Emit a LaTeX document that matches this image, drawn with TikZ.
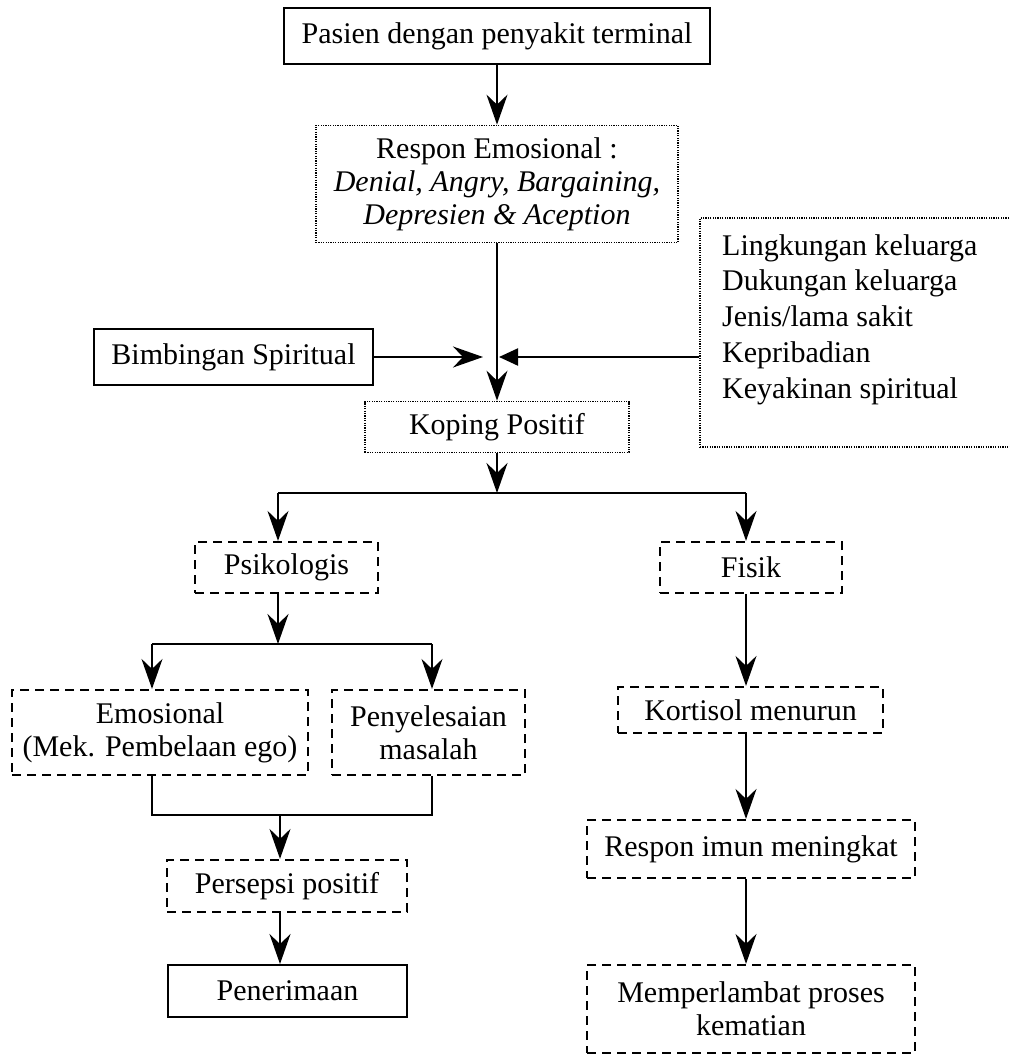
\documentclass[tikz,border=0pt]{standalone}
\usepackage{fontspec}
\setmainfont{Liberation Serif}
\usetikzlibrary{arrows.meta}
\begin{document}
\begin{tikzpicture}[x=1pt,y=-1pt,
  font=\fontsize{30}{33}\selectfont,
  box/.style={draw, line width=2pt, inner sep=0pt, align=center},
  dotbox/.style={draw, line width=1.7pt, dash pattern=on 1.2pt off 1.2pt, inner sep=0pt, align=center},
  dashbox/.style={draw, line width=2.2pt, dash pattern=on 9pt off 6pt, inner sep=0pt, align=center},
  arr/.style={line width=2.2pt, -{Stealth[length=30pt,width=21pt,inset=10pt]}},
  ln/.style={line width=2.2pt},
]
\useasboundingbox (0,0) rectangle (1009,1056);
% boxes
\node[box, minimum width=426pt, minimum height=56pt] (top) at (497,36) {Pasien dengan penyakit terminal};
\node[dotbox, minimum width=362pt, minimum height=117pt] (resp) at (497,184)
  {Respon Emosional :\\ \textit{Denial, Angry, Bargaining,}\\ \textit{Depresien \& Aception}};
\node[dotbox, minimum width=316pt, minimum height=229pt] (rbox) at (858,332.5) {};
\node[anchor=north west, align=left, inner sep=0pt, font=\fontsize{30}{35.8}\selectfont] (rtxt) at (722,234)
  {Lingkungan keluarga\\ Dukungan keluarga\\ Jenis/lama sakit\\ Kepribadian\\ Keyakinan spiritual};
\node[box, minimum width=279pt, minimum height=56pt] (bim) at (233.5,357) {Bimbingan Spiritual};
\node[dotbox, minimum width=264pt, minimum height=51pt] (kop) at (497,427) {Koping Positif};
\node[dashbox, minimum width=183pt, minimum height=51pt] (psi) at (286.5,567.5) {Psikologis};
\node[dashbox, minimum width=182pt, minimum height=51pt] (fis) at (751,567.5) {Fisik};
\node[dashbox, minimum width=296pt, minimum height=85pt] (emo) at (160,732.5) {Emosional\\ (Mek. Pembelaan ego)};
\node[dashbox, minimum width=193pt, minimum height=85pt] (pen) at (428.5,732.5) {Penyelesaian\\ masalah};
\node[dashbox, minimum width=240pt, minimum height=52pt] (pers) at (287,886) {Persepsi positif};
\node[box, minimum width=239pt, minimum height=52pt] (pene) at (287.5,991) {Penerimaan};
\node[dashbox, minimum width=265pt, minimum height=46pt] (kort) at (750.5,710) {Kortisol menurun};
\node[dashbox, minimum width=328pt, minimum height=58pt] (imun) at (751,849) {Respon imun meningkat};
\node[dashbox, minimum width=328pt, minimum height=88pt] (mati) at (751,1009) {Memperlambat proses\\ kematian};
% connectors
\draw[arr] (top.south) -- (resp.north);
\draw[arr] (resp.south) -- (kop.north);
\coordinate (jl) at (483,357);
\coordinate (jr) at (499,357);
\draw[arr] (bim.east) -- (jl);
\draw[ln, -{Triangle[length=19pt,width=17pt]}] (rbox.west |- jr) -- (jr);
\coordinate (j1) at (497,493);
\draw[arr] (kop.south) -- (j1);
\coordinate (ja) at (278,493);
\coordinate (jb) at (746,493);
\draw[ln] (ja) -- (jb);
\draw[arr] (ja) -- (ja |- psi.north);
\draw[arr] (jb) -- (jb |- fis.north);
\coordinate (j2) at (278,644);
\draw[arr] (psi.south -| j2) -- (j2);
\coordinate (jc) at (152,644);
\coordinate (jd) at (432,644);
\draw[ln] (jc) -- (jd);
\draw[arr] (jc) -- (jc |- emo.north);
\draw[arr] (jd) -- (jd |- pen.north);
\coordinate (je) at (152,815);
\coordinate (jf) at (432,815);
\draw[ln] (emo.south -| je) -- (je) -- (jf) -- (pen.south -| jf);
\coordinate (j3) at (280,815);
\draw[arr] (j3) -- (j3 |- pers.north);
\draw[arr] (pers.south -| j3) -- (j3 |- pene.north);
\draw[arr] (fis.south -| jb) -- (jb |- kort.north);
\draw[arr] (kort.south -| jb) -- (jb |- imun.north);
\draw[arr] (imun.south -| jb) -- (jb |- mati.north);
\end{tikzpicture}
\end{document}
